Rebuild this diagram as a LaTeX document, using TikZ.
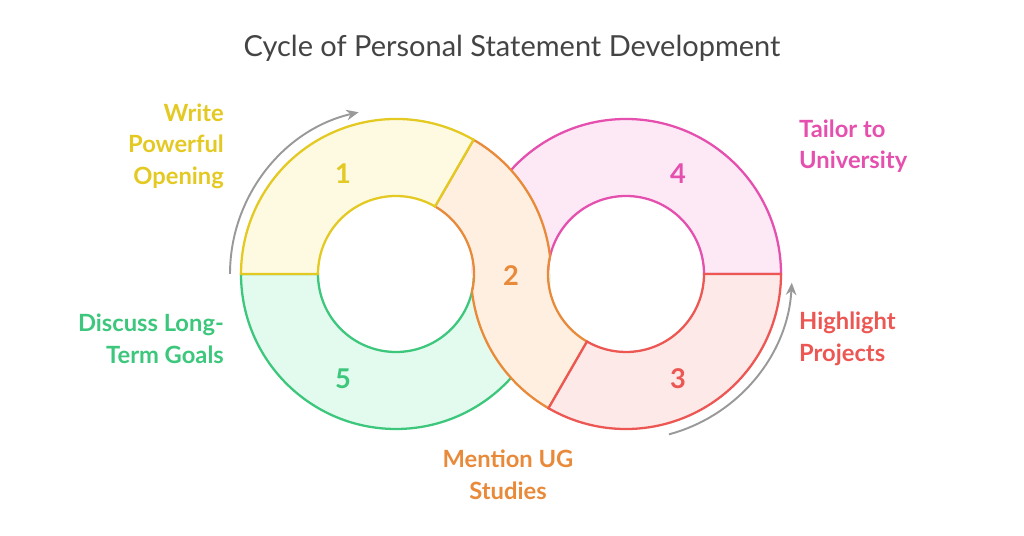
\documentclass[tikz,border=0pt]{standalone}
\usepackage{fontspec}
\setmainfont{Lato}
\usetikzlibrary{arrows.meta,positioning}
\definecolor{ylw}{HTML}{E3C922}
\definecolor{ylwfill}{HTML}{FEFAE2}
\definecolor{grn}{HTML}{3CC77C}
\definecolor{grnfill}{HTML}{E3FBEE}
\definecolor{org}{HTML}{E88A3A}
\definecolor{orgfill}{HTML}{FEEFE0}
\definecolor{pnk}{HTML}{E54FAE}
\definecolor{pnkfill}{HTML}{FDE9F6}
\definecolor{rd}{HTML}{EC5753}
\definecolor{rdfill}{HTML}{FDE9E8}
\definecolor{titlegray}{HTML}{444444}
\tikzstyle{seg} = [line width=1.3pt]
\tikzstyle{num} = [font=\bfseries\fontsize{15.5}{18}\selectfont]
\tikzstyle{lbl} = [font=\bfseries\fontsize{13.5}{18}\selectfont]
\tikzstyle{cyc} = [line width=1.1pt, draw=gray!80, -{Stealth[length=7pt,width=6pt]}]
\begin{document}
\begin{tikzpicture}[x=0.02cm,y=0.02cm]
  \useasboundingbox (0,0) rectangle (1024,536);
  \coordinate (lc) at (396,262);
  \coordinate (rc) at (626,262);
  % ring sectors
  \fill[grnfill] ([shift={(180:155)}]lc) arc[start angle=180,end angle=360,radius=155]
    -- ([shift={(0:78)}]lc) arc[start angle=360,end angle=180,radius=78] -- cycle;
  \draw[seg, draw=grn] ([shift={(0:78)}]lc) arc[start angle=360,end angle=180,radius=78]
    -- ([shift={(180:155)}]lc) arc[start angle=180,end angle=352,radius=155];
  \fill[pnkfill] ([shift={(0:155)}]rc) arc[start angle=0,end angle=180,radius=155]
    -- ([shift={(180:78)}]rc) arc[start angle=180,end angle=0,radius=78] -- cycle;
  \draw[seg, draw=pnk] ([shift={(180:78)}]rc) arc[start angle=180,end angle=0,radius=78]
    -- ([shift={(0:155)}]rc) arc[start angle=0,end angle=172,radius=155];
  \filldraw[seg, draw=org, fill=orgfill] ([shift={(60:155)}]lc) arc[start angle=60,end angle=6.5,radius=155]
    arc[start angle=167,end angle=240,radius=78] -- ([shift={(240:155)}]rc)
    arc[start angle=240,end angle=186.5,radius=155]
    arc[start angle=-13,end angle=60,radius=78] -- cycle;
  \filldraw[seg, draw=ylw, fill=ylwfill] ([shift={(60:155)}]lc) arc[start angle=60,end angle=180,radius=155]
    -- ([shift={(180:78)}]lc) arc[start angle=180,end angle=60,radius=78] -- cycle;
  \filldraw[seg, draw=rd, fill=rdfill] ([shift={(240:155)}]rc) arc[start angle=240,end angle=360,radius=155]
    -- ([shift={(0:78)}]rc) arc[start angle=360,end angle=240,radius=78] -- cycle;
  % numbers
  \node (n1) [num, text=ylw] at (343,362) {1};
  \node (n2) [num, text=org] at (511,260) {2};
  \node (n3) [num, text=rd] at (678,157) {3};
  \node (n4) [num, text=pnk] at (678,362) {4};
  \node (n5) [num, text=grn] at (343,157) {5};
  % cycle arrows
  \coordinate (a1s) at ([shift={(180:166)}]lc);
  \coordinate (a2s) at ([shift={(-75:166)}]rc);
  \draw[cyc] (a1s) arc[start angle=180,end angle=103,radius=166];
  \draw[cyc] (a2s) arc[start angle=-75,end angle=-3,radius=166];
  % labels
  \node (title) [font=\fontsize{16.5}{20}\selectfont, text=titlegray] at (512,488) {Cycle of Personal Statement Development};
  \node (write) [lbl, text=ylw, align=right, anchor=east] at (230,390) {Write\\Powerful\\Opening};
  \node (discuss) [lbl, text=grn, align=right, anchor=east] at (230,197) {Discuss Long-\\Term Goals};
  \node (tailor) [lbl, text=pnk, align=left, anchor=west] at (793,390) {Tailor to\\University};
  \node (highlight) [lbl, text=rd, align=left, anchor=west] at (793,197) {Highlight\\Projects};
  \node (mention) [lbl, text=org, align=center] at (508,61) {Mention UG\\Studies};
\end{tikzpicture}
\end{document}
